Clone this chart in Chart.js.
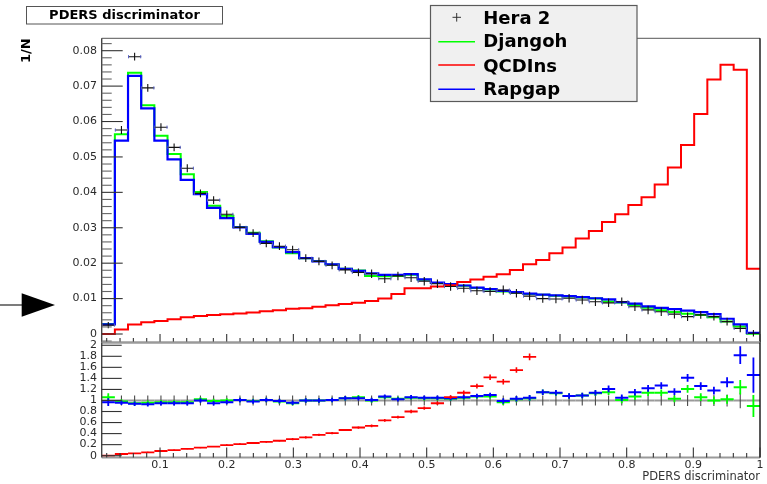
<!DOCTYPE html>
<html>
<head>
<meta charset="utf-8">
<title>PDERS discriminator</title>
<script src="https://cdn.jsdelivr.net/npm/chart.js@4.4.1/dist/chart.umd.min.js"></script>
<style>
  html, body { margin: 0; padding: 0; background: #ffffff; }
  #wrap { position: relative; width: 767px; height: 484px; overflow: hidden; }
  #wrap canvas { position: absolute; left: 0; top: 0; }
</style>
</head>
<body>
<div id="wrap">
  <canvas id="mainPad" width="767" height="484"></canvas>
  <canvas id="ratioPad" width="767" height="484"></canvas>
</div>
<script>
// ---------------- binning of the discriminator ----------------
const xLow = 0.0125;
const xHigh = 1.0;
const nBins = 50;

// ---------------- series (one value per bin) ----------------
const seriesNames = ['Hera 2', 'Djangoh', 'QCDIns', 'Rapgap'];

const hera2 = [
  0.0025, 0.0576, 0.0783, 0.0695, 0.0584, 0.0527, 0.0468, 0.0397, 0.0378, 0.0338,
  0.0301, 0.0285, 0.0256, 0.0248, 0.0238, 0.0214, 0.0205, 0.0194, 0.0181, 0.0174,
  0.0170, 0.0156, 0.0164, 0.0159, 0.0149, 0.0142, 0.0134, 0.0129, 0.0122, 0.0120,
  0.0124, 0.0115, 0.0107, 0.0100, 0.0099, 0.0101, 0.0096, 0.0091, 0.0088, 0.0091,
  0.0077, 0.0068, 0.0063, 0.0056, 0.0049, 0.0054, 0.0049, 0.0035, 0.0016, 0.0002
];
const hera2Err = [
  0.0009, 0.0011, 0.0011, 0.0011, 0.0011, 0.0011, 0.0011, 0.0011, 0.0011, 0.0011,
  0.0011, 0.0011, 0.0011, 0.0011, 0.0011, 0.0011, 0.0011, 0.0011, 0.0011, 0.0011,
  0.0012, 0.0012, 0.0012, 0.0012, 0.0012, 0.0012, 0.0012, 0.0012, 0.0012, 0.0012,
  0.0013, 0.0012, 0.0012, 0.0012, 0.0012, 0.0012, 0.0012, 0.0012, 0.0012, 0.0012,
  0.0012, 0.0012, 0.0012, 0.0012, 0.0012, 0.0011, 0.0011, 0.0011, 0.0011, 0.0009
];
const djangoh = [
  0.0028, 0.0564, 0.0738, 0.0646, 0.0560, 0.0508, 0.0451, 0.0401, 0.0362, 0.0334,
  0.0302, 0.0286, 0.0262, 0.0244, 0.0228, 0.0214, 0.0206, 0.0196, 0.0184, 0.0179,
  0.0164, 0.0163, 0.0164, 0.0167, 0.0153, 0.0144, 0.0140, 0.0136, 0.0130, 0.0126,
  0.0120, 0.0117, 0.0113, 0.0111, 0.0108, 0.0106, 0.0103, 0.0100, 0.0092, 0.0089,
  0.0082, 0.0074, 0.0067, 0.0062, 0.0057, 0.0054, 0.0047, 0.0035, 0.0021, 0.0001
];
const qcdins = [
  0.0000, 0.0013, 0.0027, 0.0033, 0.0037, 0.0042, 0.0047, 0.0051, 0.0054, 0.0056,
  0.0058, 0.0061, 0.0064, 0.0067, 0.0071, 0.0073, 0.0077, 0.0081, 0.0085, 0.0088,
  0.0093, 0.0100, 0.0113, 0.0129, 0.0129, 0.0134, 0.0138, 0.0147, 0.0154, 0.0162,
  0.0169, 0.0181, 0.0197, 0.0209, 0.0228, 0.0244, 0.0270, 0.0291, 0.0316, 0.0338,
  0.0364, 0.0386, 0.0422, 0.0470, 0.0534, 0.0621, 0.0719, 0.0760, 0.0746, 0.0184
];
const rapgap = [
  0.0027, 0.0546, 0.0729, 0.0637, 0.0546, 0.0493, 0.0435, 0.0395, 0.0356, 0.0327,
  0.0301, 0.0283, 0.0260, 0.0245, 0.0231, 0.0214, 0.0205, 0.0197, 0.0184, 0.0178,
  0.0171, 0.0167, 0.0167, 0.0169, 0.0154, 0.0145, 0.0141, 0.0137, 0.0131, 0.0127,
  0.0122, 0.0118, 0.0114, 0.0111, 0.0109, 0.0107, 0.0104, 0.0101, 0.0098, 0.0090,
  0.0086, 0.0078, 0.0074, 0.0070, 0.0066, 0.0062, 0.0056, 0.0043, 0.0027, 0.0003
];

// ---------------- ratios to Hera 2 (lower pad) ----------------
const ratioHera2 = [
  1, 1, 1, 1, 1, 1, 1, 1, 1, 1,
  1, 1, 1, 1, 1, 1, 1, 1, 1, 1,
  1, 1, 1, 1, 1, 1, 1, 1, 1, 1,
  1, 1, 1, 1, 1, 1, 1, 1, 1, 1,
  1, 1, 1, 1, 1, 1, 1, 1, 1, 1
];
const ratioHera2Err = [
  0.09, 0.09, 0.09, 0.09, 0.09, 0.09, 0.09, 0.09, 0.09, 0.09,
  0.09, 0.09, 0.09, 0.09, 0.09, 0.09, 0.09, 0.09, 0.09, 0.09,
  0.09, 0.09, 0.09, 0.09, 0.09, 0.09, 0.09, 0.09, 0.09, 0.09,
  0.09, 0.09, 0.09, 0.09, 0.09, 0.09, 0.09, 0.09, 0.09, 0.09,
  0.09, 0.09, 0.09, 0.10, 0.10, 0.10, 0.10, 0.11, 0.14, 0.10
];
const ratioDjangoh = [
  1.06, 0.98, 0.95, 0.96, 0.97, 0.97, 0.97, 1.02, 0.99, 1.00,
  1.01, 0.99, 1.01, 0.98, 0.95, 1.00, 1.00, 1.01, 1.04, 1.06,
  1.00, 1.06, 1.03, 1.05, 1.04, 1.04, 1.03, 1.05, 1.07, 1.07,
  0.97, 1.02, 1.04, 1.15, 1.13, 1.08, 1.09, 1.13, 1.15, 1.01,
  1.07, 1.14, 1.14, 1.03, 1.21, 1.06, 1.00, 1.02, 1.24, 0.90
];
const ratioDjangohErr = [
  0.07, 0.04, 0.04, 0.04, 0.04, 0.04, 0.04, 0.04, 0.04, 0.04,
  0.04, 0.04, 0.04, 0.04, 0.04, 0.04, 0.04, 0.04, 0.04, 0.04,
  0.04, 0.04, 0.04, 0.04, 0.04, 0.04, 0.04, 0.04, 0.04, 0.04,
  0.05, 0.05, 0.05, 0.05, 0.05, 0.05, 0.05, 0.05, 0.05, 0.06,
  0.06, 0.06, 0.06, 0.06, 0.07, 0.07, 0.07, 0.08, 0.13, 0.20
];
const ratioQcdins = [
  0.00, 0.03, 0.04, 0.06, 0.085, 0.10, 0.125, 0.145, 0.165, 0.19,
  0.21, 0.23, 0.25, 0.27, 0.30, 0.33, 0.375, 0.41, 0.465, 0.51,
  0.54, 0.64, 0.70, 0.80, 0.86, 0.95, 1.06, 1.14, 1.26, 1.42,
  1.34, 1.55, 1.79, null, null, null, null, null, null, null,
  null, null, null, null, null, null, null, null, null, null
];
const ratioQcdinsErr = [
  0.01, 0.01, 0.01, 0.01, 0.01, 0.01, 0.01, 0.01, 0.01, 0.015,
  0.015, 0.015, 0.015, 0.015, 0.02, 0.02, 0.02, 0.02, 0.02, 0.02,
  0.025, 0.025, 0.025, 0.03, 0.03, 0.03, 0.035, 0.04, 0.045, 0.05,
  0.05, 0.05, 0.06, null, null, null, null, null, null, null,
  null, null, null, null, null, null, null, null, null, null
];
const ratioRapgap = [
  0.97, 0.96, 0.94, 0.93, 0.95, 0.95, 0.95, 1.00, 0.95, 0.97,
  1.01, 0.98, 1.01, 0.99, 0.96, 1.00, 1.00, 1.01, 1.04, 1.04,
  1.01, 1.07, 1.02, 1.06, 1.05, 1.05, 1.04, 1.06, 1.08, 1.10,
  0.99, 1.03, 1.05, 1.15, 1.14, 1.08, 1.09, 1.14, 1.21, 1.05,
  1.15, 1.22, 1.27, 1.16, 1.41, 1.26, 1.18, 1.33, 1.82, 1.46
];
const ratioRapgapErr = [
  0.07, 0.04, 0.04, 0.04, 0.04, 0.04, 0.04, 0.04, 0.04, 0.04,
  0.04, 0.04, 0.04, 0.04, 0.04, 0.04, 0.04, 0.04, 0.04, 0.04,
  0.04, 0.04, 0.04, 0.04, 0.04, 0.04, 0.04, 0.04, 0.04, 0.04,
  0.05, 0.05, 0.05, 0.05, 0.05, 0.05, 0.05, 0.05, 0.06, 0.06,
  0.06, 0.06, 0.06, 0.06, 0.07, 0.07, 0.07, 0.09, 0.16, 0.32
];

// ---------------- tick labels ----------------
const xTickValues = [0.1, 0.2, 0.3, 0.4, 0.5, 0.6, 0.7, 0.8, 0.9, 1];
const yTickValuesMain = [0, 0.01, 0.02, 0.03, 0.04, 0.05, 0.06, 0.07, 0.08];
const yTickValuesRatio = [0, 0.2, 0.4, 0.6, 0.8, 1, 1.2, 1.4, 1.6, 1.8, 2];

// ---------------- styling ----------------
const COLORS = { hera: '#000000', djangoh: '#00ff00', qcdins: '#ff0000', rapgap: '#0000ff' };
const FONT = '"DejaVu Sans", "Liberation Sans", Arial, sans-serif';
const PAD_LEFT = 101.7;      // width reserved for the y axes
const MAIN_TOP = 38.3;
const SPLIT_Y = 342.5;       // border between the two pads
const RATIO_BOTTOM = 457.5;
const CANVAS_W = 767, CANVAS_H = 484;
const FRAME_RIGHT = 760;

// ---------------- helpers ----------------
const binWidth = (xHigh - xLow) / nBins;
const binEdges = [];
for (let i = 0; i <= nBins; i++) binEdges.push(xLow + i * binWidth);

// step outline: one point per lower bin edge plus the closing upper edge
function stepPoints(values) {
  const pts = values.map((v, i) => ({ x: binEdges[i], y: v }));
  pts.push({ x: binEdges[nBins], y: values[nBins - 1] });
  return pts;
}
// error crosses at the bin centres
function crossPoints(values, errs) {
  const pts = [];
  values.forEach((v, i) => {
    if (v === null) return;
    pts.push({ x: (binEdges[i] + binEdges[i + 1]) / 2, y: v, yErr: errs[i] });
  });
  return pts;
}
function seg(ctx, x1, y1, x2, y2, color, w) {
  ctx.strokeStyle = color;
  ctx.lineWidth = w;
  ctx.beginPath();
  ctx.moveTo(x1, y1);
  ctx.lineTo(x2, y2);
  ctx.stroke();
}
function fmtTick(v) { return String(Number(v.toFixed(2))); }

// draws the error crosses for every dataset carrying a "cross" style
const crossPlugin = {
  id: 'errorCrosses',
  afterDatasetsDraw(chart) {
    const { ctx, chartArea: a, scales: { x, y } } = chart;
    ctx.save();
    ctx.beginPath();
    ctx.rect(a.left, a.top - 1, a.right - a.left, a.bottom - a.top + 2);
    ctx.clip();
    ctx.lineCap = 'butt';
    chart.data.datasets.forEach(ds => {
      const st = ds.cross;
      if (!st) return;
      ds.data.forEach(p => {
        const xl = x.getPixelForValue(p.x - binWidth / 2);
        const xr = x.getPixelForValue(p.x + binWidth / 2);
        const xc = x.getPixelForValue(p.x);
        const yc = y.getPixelForValue(p.y);
        const yt = y.getPixelForValue(p.y + p.yErr);
        const yb = y.getPixelForValue(p.y - p.yErr);
        seg(ctx, xl, yc, xr, yc, st.hColor, st.hWidth);
        seg(ctx, xc, yt, xc, yb, st.vColor, st.vWidth);
        if (st.cap) {
          seg(ctx, xl + 0.5, yc - 1.6, xl + 0.5, yc + 1.6, st.cap, 1);
          seg(ctx, xr - 0.5, yc - 1.6, xr - 0.5, yc + 1.6, st.cap, 1);
        }
      });
    });
    ctx.restore();
  }
};

function xTicksInside(ctx, a, x, majorLen, minorLen) {
  for (let k = 1; k <= 50; k++) {
    const px = x.getPixelForValue(k * 0.02);
    if (px < a.left || px > a.right + 0.5) continue;
    const major = k % 5 === 0;
    seg(ctx, px, a.bottom, px, a.bottom - (major ? majorLen : minorLen), '#333', 1.1);
  }
}

// frame, inner ticks, title box, legend and marker arrow of the upper pad
const mainDecor = {
  id: 'mainDecor',
  afterDraw(chart) {
    const { ctx, chartArea: a, scales: { x, y } } = chart;
    ctx.save();
    // frame
    seg(ctx, a.left, a.top, a.right, a.top, '#555', 1);
    seg(ctx, a.right, a.top, a.right, a.bottom, '#111', 1.4);
    seg(ctx, a.left, a.bottom, a.right, a.bottom, '#9a9a9a', 2);
    seg(ctx, a.left, a.top, a.left, a.bottom, '#444', 1.4);
    // y ticks (inside the frame)
    for (let k = -1; k <= 41; k++) {
      const py = y.getPixelForValue(k * 0.002);
      if (py < a.top || py > a.bottom) continue;
      const major = k % 5 === 0;
      seg(ctx, a.left, py, a.left + (major ? 21 : 10), py, major ? '#333' : '#666', 1.1);
    }
    xTicksInside(ctx, a, x, 8.5, 4.5);

    // title box
    ctx.fillStyle = '#ffffff';
    ctx.fillRect(26.5, 6.5, 196, 17.5);
    ctx.strokeStyle = '#555';
    ctx.lineWidth = 1;
    ctx.strokeRect(26.5, 6.5, 196, 17.5);
    ctx.fillStyle = '#000';
    ctx.font = 'bold 13px ' + FONT;
    ctx.textAlign = 'center';
    ctx.textBaseline = 'alphabetic';
    ctx.fillText('PDERS discriminator', 124.5, 19);

    // legend
    ctx.fillStyle = '#f0f0f0';
    ctx.fillRect(430.5, 5.5, 206.5, 96);
    ctx.strokeStyle = '#5a5a5a';
    ctx.lineWidth = 1.2;
    ctx.strokeRect(430.5, 5.5, 206.5, 96);
    const rows = [
      { name: seriesNames[0], color: COLORS.hera, mark: 'cross', y: 17.3, base: 23.8 },
      { name: seriesNames[1], color: COLORS.djangoh, mark: 'line', y: 41.7, base: 47.4 },
      { name: seriesNames[2], color: COLORS.qcdins, mark: 'line', y: 65.0, base: 71.6 },
      { name: seriesNames[3], color: COLORS.rapgap, mark: 'line', y: 89.3, base: 95.0 }
    ];
    ctx.font = 'bold 18px ' + FONT;
    ctx.textAlign = 'left';
    rows.forEach(r => {
      if (r.mark === 'cross') {
        seg(ctx, 452.5, r.y, 461, r.y, '#333', 1);
        seg(ctx, 456.7, r.y - 4.3, 456.7, r.y + 4.3, '#333', 1);
      } else {
        seg(ctx, 438.3, r.y, 475, r.y, r.color, 1.4);
      }
      ctx.fillStyle = '#000';
      ctx.fillText(r.name, 483.3, r.base);
    });

    // marker arrow on the left
    seg(ctx, 0, 305, 23, 305, '#444', 1.4);
    ctx.fillStyle = '#000';
    ctx.beginPath();
    ctx.moveTo(21.7, 293.3);
    ctx.lineTo(55, 305);
    ctx.lineTo(21.7, 316.7);
    ctx.closePath();
    ctx.fill();
    ctx.restore();
  }
};

// frame and inner ticks of the ratio pad
const ratioDecor = {
  id: 'ratioDecor',
  afterDraw(chart) {
    const { ctx, chartArea: a, scales: { x, y } } = chart;
    ctx.save();
    seg(ctx, a.left, a.top, a.right, a.top, '#9a9a9a', 2);
    seg(ctx, a.left, a.bottom, a.right, a.bottom, '#9a9a9a', 2);
    seg(ctx, a.right, a.top, a.right, a.bottom, '#111', 1.4);
    seg(ctx, a.left, a.top, a.left, a.bottom, '#444', 1.4);
    yTickValuesRatio.forEach(v => {
      const py = y.getPixelForValue(v);
      seg(ctx, a.left, py, a.left + 20, py, '#333', 1.1);
    });
    xTicksInside(ctx, a, x, 10, 4.5);
    ctx.restore();
  }
};

function yAxis(min, max, ticksArr, extra) {
  return Object.assign({
    type: 'linear',
    position: 'left',
    min: min,
    max: max,
    grid: { display: false, drawTicks: false },
    border: { display: false },
    afterBuildTicks: s => { s.ticks = ticksArr.map(v => ({ value: v })); },
    afterFit: s => { s.width = PAD_LEFT; },
    ticks: {
      autoSkip: false,
      padding: 4.7,
      color: '#2a2a2a',
      font: { family: FONT, size: 11 },
      callback: v => fmtTick(v)
    }
  }, extra || {});
}

const common = {
  responsive: false,
  maintainAspectRatio: false,
  animation: false,
  devicePixelRatio: 1,
  events: [],
  plugins: { legend: { display: false }, tooltip: { enabled: false }, title: { display: false } },
  elements: { point: { radius: 0 }, line: { tension: 0 } }
};

// ---------------- upper pad: normalised distributions ----------------
new Chart(document.getElementById('mainPad'), {
  type: 'line',
  data: {
    datasets: [
      { label: seriesNames[0], data: crossPoints(hera2, hera2Err), showLine: false, pointRadius: 0, order: 0,
        cross: { hColor: '#111', hWidth: 1.1, vColor: '#111', vWidth: 1.1, cap: '#5a64c8' } },
      { label: seriesNames[2], data: stepPoints(qcdins), stepped: 'before', borderColor: COLORS.qcdins,
        borderWidth: 2, pointRadius: 0, fill: false, order: 1 },
      { label: seriesNames[3], data: stepPoints(rapgap), stepped: 'before', borderColor: COLORS.rapgap,
        borderWidth: 2.2, pointRadius: 0, fill: false, order: 2 },
      { label: seriesNames[1], data: stepPoints(djangoh), stepped: 'before', borderColor: COLORS.djangoh,
        borderWidth: 2, pointRadius: 0, fill: false, order: 3 }
    ]
  },
  options: Object.assign({}, common, {
    layout: { padding: { left: 0, top: MAIN_TOP, right: CANVAS_W - FRAME_RIGHT, bottom: CANVAS_H - SPLIT_Y } },
    scales: {
      x: { type: 'linear', min: xLow, max: xHigh, display: false },
      y: yAxis(-0.0024, 0.0835, yTickValuesMain, {
        title: {
          display: true, text: '1/N', align: 'end', color: '#000',
          font: { family: FONT, size: 13, weight: 'bold' },
          padding: { top: 18.7, bottom: 0 }
        }
      })
    }
  }),
  plugins: [mainDecor, crossPlugin]
});

// ---------------- lower pad: ratio to Hera 2 ----------------
new Chart(document.getElementById('ratioPad'), {
  type: 'line',
  data: {
    datasets: [
      { label: seriesNames[0], data: crossPoints(ratioHera2, ratioHera2Err), showLine: false, pointRadius: 0,
        cross: { hColor: '#9a9a9a', hWidth: 2, vColor: '#4a4a4a', vWidth: 1.1 } },
      { label: seriesNames[1], data: crossPoints(ratioDjangoh, ratioDjangohErr), showLine: false, pointRadius: 0,
        cross: { hColor: COLORS.djangoh, hWidth: 2, vColor: COLORS.djangoh, vWidth: 1.8 } },
      { label: seriesNames[3], data: crossPoints(ratioRapgap, ratioRapgapErr), showLine: false, pointRadius: 0,
        cross: { hColor: COLORS.rapgap, hWidth: 2, vColor: COLORS.rapgap, vWidth: 1.8 } },
      { label: seriesNames[2], data: crossPoints(ratioQcdins, ratioQcdinsErr), showLine: false, pointRadius: 0,
        cross: { hColor: COLORS.qcdins, hWidth: 1.8, vColor: COLORS.qcdins, vWidth: 1.6 } }
    ]
  },
  options: Object.assign({}, common, {
    layout: { padding: { left: 0, top: SPLIT_Y, right: CANVAS_W - FRAME_RIGHT, bottom: 0 } },
    scales: {
      x: {
        type: 'linear', position: 'bottom', min: xLow, max: xHigh,
        grid: { display: false, drawTicks: false },
        border: { display: false },
        afterBuildTicks: s => { s.ticks = xTickValues.map(v => ({ value: v })); },
        afterFit: s => { s.height = CANVAS_H - RATIO_BOTTOM; },
        ticks: {
          autoSkip: false, maxRotation: 0, padding: 1,
          color: '#2a2a2a', font: { family: FONT, size: 11 },
          callback: v => fmtTick(v)
        },
        title: {
          display: true, text: 'PDERS discriminator', align: 'end', color: '#333',
          font: { family: FONT, size: 11.5 },
          padding: { top: 0, bottom: 0 }
        }
      },
      y: yAxis(-0.033, 2.05, yTickValuesRatio)
    }
  }),
  plugins: [ratioDecor, crossPlugin]
});
</script>
</body>
</html>
